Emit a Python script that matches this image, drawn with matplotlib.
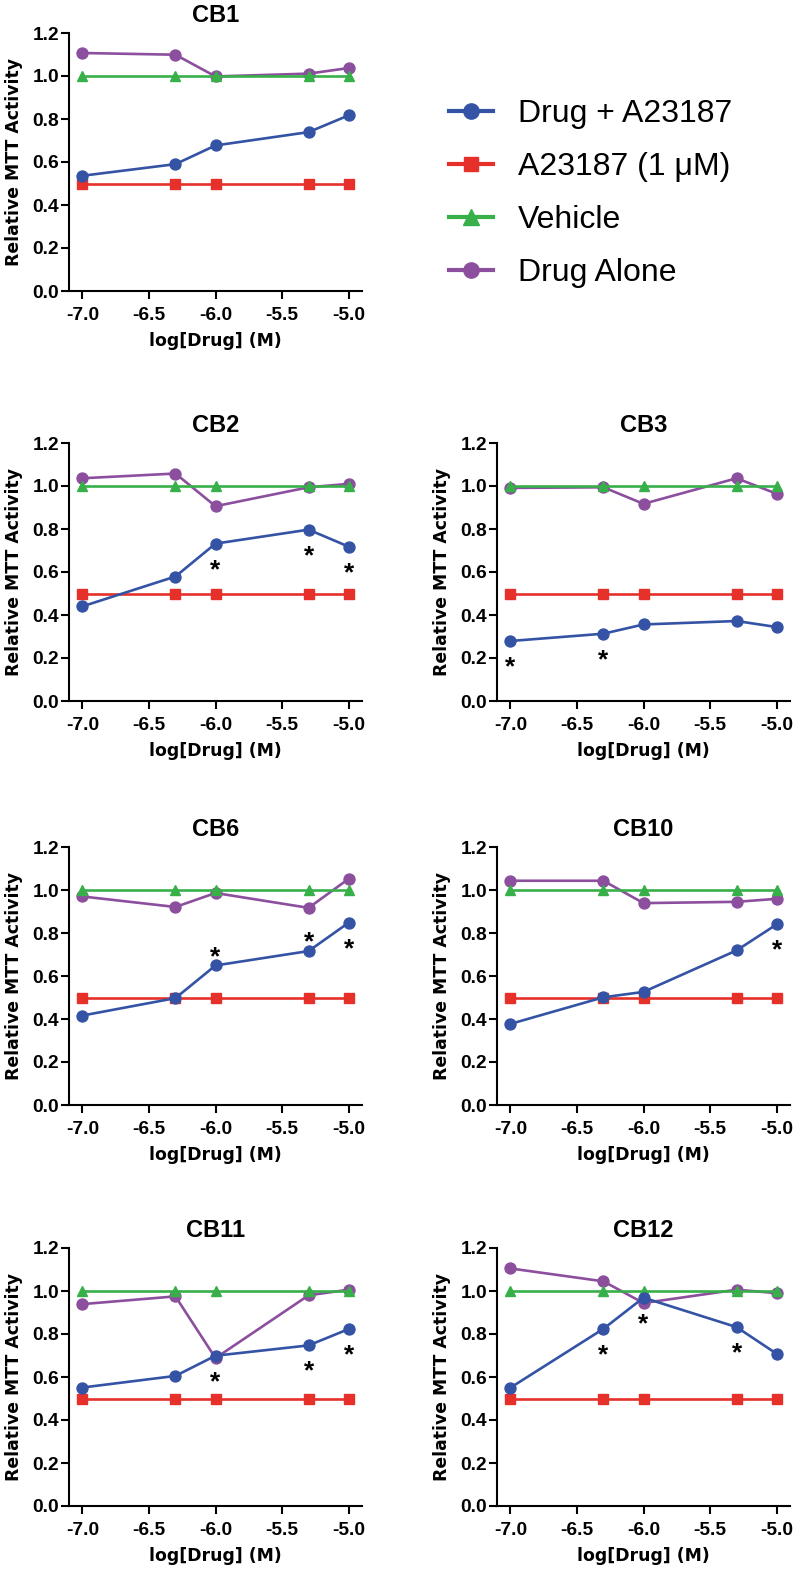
import matplotlib
matplotlib.use("Agg")
import matplotlib.pyplot as plt
from matplotlib.lines import Line2D

plt.rcParams['axes.unicode_minus'] = False

# ---------------- data ----------------
log_conc = [-7.0, -6.301, -6.0, -5.301, -5.0]
panels = ["CB1", "CB2", "CB3", "CB6", "CB10", "CB11", "CB12"]

drug_a23187 = {
    "CB1":  [0.536, 0.590, 0.677, 0.739, 0.817],
    "CB2":  [0.440, 0.579, 0.732, 0.797, 0.718],
    "CB3":  [0.279, 0.313, 0.356, 0.372, 0.344],
    "CB6":  [0.416, 0.497, 0.649, 0.716, 0.848],
    "CB10": [0.377, 0.501, 0.526, 0.719, 0.840],
    "CB11": [0.551, 0.605, 0.699, 0.747, 0.823],
    "CB12": [0.550, 0.824, 0.969, 0.832, 0.708],
}
a23187_only = [0.5, 0.5, 0.5, 0.5, 0.5]
vehicle = [1.0, 1.0, 1.0, 1.0, 1.0]
drug_alone = {
    "CB1":  [1.107, 1.099, 0.998, 1.011, 1.037],
    "CB2":  [1.036, 1.058, 0.906, 0.994, 1.010],
    "CB3":  [0.991, 0.994, 0.917, 1.036, 0.964],
    "CB6":  [0.970, 0.921, 0.986, 0.917, 1.052],
    "CB10": [1.043, 1.043, 0.939, 0.945, 0.959],
    "CB11": [0.939, 0.975, 0.688, 0.980, 1.006],
    "CB12": [1.105, 1.045, 0.944, 1.006, 0.990],
}
# significance marks: (point index, side)
significance = {
    "CB1":  [],
    "CB2":  [(2, "below"), (3, "below"), (4, "below")],
    "CB3":  [(0, "below"), (1, "below")],
    "CB6":  [(2, "above"), (3, "above"), (4, "below")],
    "CB10": [(4, "below")],
    "CB11": [(2, "below"), (3, "below"), (4, "below")],
    "CB12": [(1, "below"), (2, "below"), (3, "below")],
}
series_labels = ["Drug + A23187", "A23187 (1 \u03bcM)", "Vehicle", "Drug Alone"]
x_ticks = [-7.0, -6.5, -6.0, -5.5, -5.0]
y_ticks = [0.0, 0.2, 0.4, 0.6, 0.8, 1.0, 1.2]

# ---------------- style ----------------
BLUE = "#3453A5"
RED = "#E5312A"
GREEN = "#38B04A"
PURPLE = "#8C4F9E"
TICK_FONT = "Liberation Sans"
LABEL_FONT = "DejaVu Sans"

W, H = 795, 1571
fig = plt.figure(figsize=(W / 100, H / 100), dpi=100)

col_x = [69, 497]
row_top = [33, 443, 847, 1248]
ax_w, ax_h = 293, 258
layout = {
    "CB1": (0, 0), "CB2": (1, 0), "CB3": (1, 1), "CB6": (2, 0),
    "CB10": (2, 1), "CB11": (3, 0), "CB12": (3, 1),
}

lw = 1.9
ms = 7.9

for name in panels:
    r, c = layout[name]
    left = col_x[c] / W
    bottom = 1 - (row_top[r] + ax_h) / H
    ax = fig.add_axes([left, bottom, ax_w / W, ax_h / H])

    ax.plot(log_conc, drug_alone[name], color=PURPLE, lw=lw, marker="o", ms=ms, zorder=3)
    ax.plot(log_conc, vehicle, color=GREEN, lw=lw, marker="^", ms=ms, zorder=4)
    ax.plot(log_conc, a23187_only, color=RED, lw=lw, marker="s", ms=ms - 0.6, zorder=5)
    ax.plot(log_conc, drug_a23187[name], color=BLUE, lw=lw, marker="o", ms=ms, zorder=6)

    for idx, side in significance[name]:
        off = -24 if side == "below" else 1.0
        ax.annotate("*", (log_conc[idx], drug_a23187[name][idx]), xytext=(0, off),
                    textcoords="offset points", ha="center", va="baseline",
                    fontsize=19, fontweight="bold", family=TICK_FONT, zorder=7)

    ax.set_xlim(-7.1, -4.9)
    ax.set_ylim(0, 1.2)
    ax.set_xticks(x_ticks)
    ax.set_xticklabels([f"{v:.1f}" for v in x_ticks])
    ax.set_yticks(y_ticks)
    ax.set_yticklabels([f"{v:.1f}" for v in y_ticks])
    for lab in ax.get_xticklabels() + ax.get_yticklabels():
        lab.set_fontfamily(TICK_FONT)
        lab.set_fontweight("bold")
        lab.set_fontsize(13.8)
    ax.tick_params(axis="both", length=5.5, width=1.5, color="black")
    ax.tick_params(axis="x", pad=6)
    ax.tick_params(axis="y", pad=1.5)
    for s in ["top", "right"]:
        ax.spines[s].set_visible(False)
    for s in ["left", "bottom"]:
        ax.spines[s].set_linewidth(1.5)
    ax.set_xlabel("log[Drug] (M)", fontsize=12.4, fontweight="bold", family=LABEL_FONT, labelpad=6)
    ax.set_ylabel("Relative MTT Activity", fontsize=12.4, fontweight="bold", family=LABEL_FONT, labelpad=7)
    ax.set_title(name, fontsize=17, fontweight="bold", family=TICK_FONT, pad=8)

handles = [
    Line2D([], [], color=BLUE, lw=3, marker="o", ms=11),
    Line2D([], [], color=RED, lw=3, marker="s", ms=10.5),
    Line2D([], [], color=GREEN, lw=3, marker="^", ms=11),
    Line2D([], [], color=PURPLE, lw=3, marker="o", ms=11),
]
fig.legend(handles, series_labels, loc="upper left",
           bbox_to_anchor=(449 / W, 1 - 99 / H), frameon=False,
           prop={"family": TICK_FONT, "size": 23},
           handlelength=1.38, handletextpad=0.78, labelspacing=0.72,
           borderpad=0, borderaxespad=0)

fig.savefig("out.png", dpi=100, facecolor="white")
